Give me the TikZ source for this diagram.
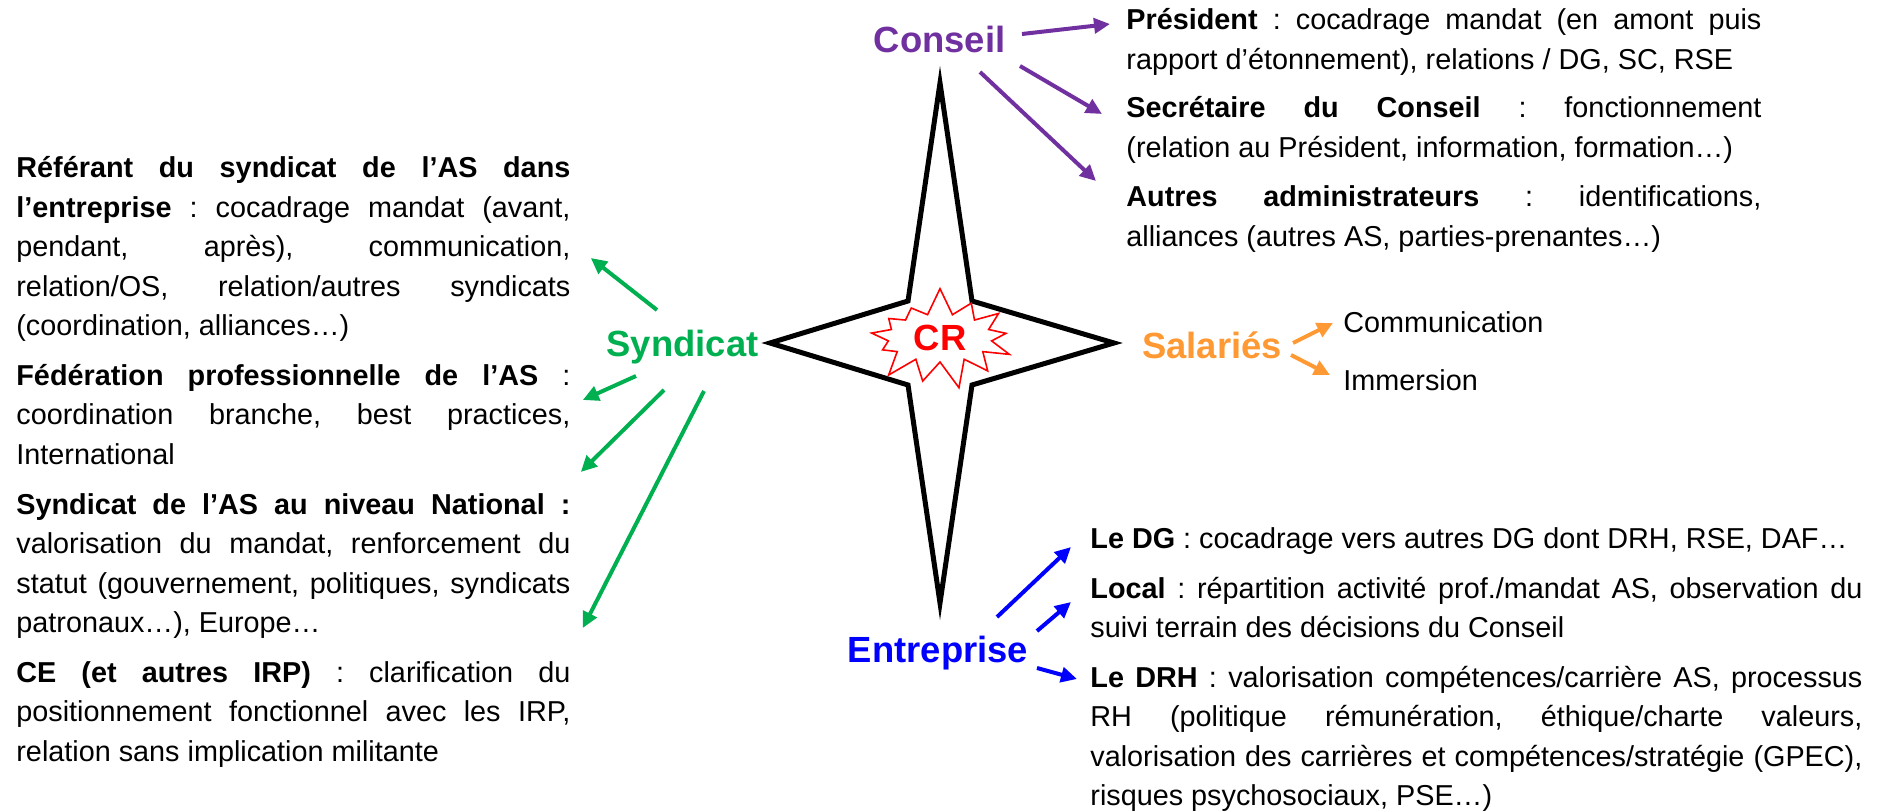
\documentclass[tikz,border=0pt]{standalone}
\usepackage{fontspec}
\setmainfont{Liberation Sans}
\usetikzlibrary{arrows.meta,shapes.symbols}
\definecolor{syndgreen}{HTML}{00B050}
\definecolor{conspurple}{HTML}{7030A0}
\definecolor{salorange}{HTML}{FF9933}
\definecolor{entblue}{HTML}{0000FF}
\definecolor{crred}{HTML}{FF0000}
\hyphenpenalty=10000
\exhyphenpenalty=10000
\tolerance=10000
\frenchspacing
\begin{document}
\begin{tikzpicture}[x=0.5pt, y=-0.5pt,
	txt/.style={inner sep=0pt, anchor=base west, align=justify,
				font=\fontsize{14.4}{19.75}\selectfont},
	leftcol/.style={txt, text width=277pt},
	rightcol/.style={txt, text width=317.5pt},
	lowcol/.style={txt, text width=386pt},
	item/.style={inner sep=0pt, anchor=base west, font=\fontsize{14.4}{19.75}\selectfont},
	actor/.style={inner sep=0pt, anchor=base, font=\bfseries\fontsize{18.2}{22}\selectfont},
	link/.style={line width=2pt, -{Triangle[length=8pt, width=7.5pt]}},
	burst/.style={starburst, starburst points=13, starburst point height=14pt,
				  random starburst=7, draw=crred, fill=white, line width=0.8pt,
				  text=crred, font=\bfseries\fontsize{18.2}{22}\selectfont,
				  minimum width=80pt, minimum height=52pt, inner sep=0pt}]
	\useasboundingbox (0,0) rectangle (1883,812);

	% the compass
	\draw[line width=2.5pt, line join=miter] (940,83) -- (972,301) -- (1114,343) -- (972,385)
		-- (940,603) -- (908,385) -- (770,343) -- (908,301) -- cycle;
	\node[burst] (cr) at (940,338) {CR};

	% the four actors
	\node[actor, text=conspurple] (conseil) at (939.5,53) {Conseil};
	\node[actor, text=syndgreen] (syndicat) at (682.5,357) {Syndicat};
	\node[actor, text=salorange] (salaries) at (1212,358) {Salariés};
	\node[actor, text=entblue] (entreprise) at (938,662) {Entreprise};

	% Syndicat side
	\node[leftcol] (referant) at (16,178) {\textbf{Référant du syndicat de l’AS dans}\linebreak
		\textbf{l’entreprise} : cocadrage mandat (avant,\linebreak
		pendant, après), communication,\linebreak
		relation/OS, relation/autres syndicats\linebreak
		(coordination, alliances…)};
	\node[leftcol] (federation) at (16,385.5) {\textbf{Fédération professionnelle de l’AS} :\linebreak
		coordination branche, best practices,\linebreak
		International};
	\node[leftcol] (national) at (16,514) {\textbf{Syndicat de l’AS au niveau National :}\linebreak
		valorisation du mandat, renforcement du\linebreak
		statut (gouvernement, politiques, syndicats\linebreak
		patronaux…), Europe…};
	\node[leftcol] (ce) at (16,682) {\textbf{CE (et autres IRP)} : clarification du\linebreak
		positionnement fonctionnel avec les IRP,\linebreak
		relation sans implication militante};

	% Conseil side
	\node[rightcol] (president) at (1126,30) {\textbf{Président} : cocadrage mandat (en amont puis\linebreak
		rapport d’étonnement), relations / DG, SC, RSE};
	\node[rightcol] (secretaire) at (1126,118) {\textbf{Secrétaire du Conseil} : fonctionnement\linebreak
		(relation au Président, information, formation…)};
	\node[rightcol] (autres) at (1126,207) {\textbf{Autres administrateurs} : identifications,\linebreak
		alliances (autres AS, parties-prenantes…)};

	% Salaries side
	\node[item] (communication) at (1343,333) {Communication};
	\node[item] (immersion) at (1343,390) {Immersion};

	% Entreprise side
	\node[lowcol] (dg) at (1090,548) {\textbf{Le DG} : cocadrage vers autres DG dont DRH, RSE, DAF…};
	\node[lowcol] (local) at (1090,598) {\textbf{Local} : répartition activité prof./mandat AS, observation du\linebreak
		suivi terrain des décisions du Conseil};
	\node[lowcol] (drh) at (1090,687) {\textbf{Le DRH} : valorisation compétences/carrière AS, processus\linebreak
		RH (politique rémunération, éthique/charte valeurs,\linebreak
		valorisation des carrières et compétences/stratégie (GPEC),\linebreak
		risques psychosociaux, PSE…)};

	\draw[link, syndgreen] ([shift={(-25.5,-47)}]syndicat.base) -- ([shift={(20,80)}]referant.base east);
	\draw[link, syndgreen] ([shift={(-46.5,19)}]syndicat.base) -- ([shift={(12,14.5)}]federation.base east);
	\draw[link, syndgreen] ([shift={(-18.5,33)}]syndicat.base) -- ([shift={(10,-42)}]national.base east);
	\draw[link, syndgreen] ([shift={(21.5,34)}]syndicat.base) -- ([shift={(12,-54)}]ce.base east);

	\draw[link, conspurple] ([shift={(82.5,-19)}]conseil.base) -- ([shift={(-16,-6)}]president.base west);
	\draw[link, conspurple] ([shift={(80.5,13)}]conseil.base) -- ([shift={(-24,-4)}]secretaire.base west);
	\draw[link, conspurple] ([shift={(40.5,19)}]conseil.base) -- ([shift={(-30,-26)}]autres.base west);

	\draw[link, salorange] ([shift={(81,-15)}]salaries.base) -- ([shift={(-10,-10)}]communication.base west);
	\draw[link, salorange] ([shift={(79,-3)}]salaries.base) -- ([shift={(-13,-15)}]immersion.base west);

	\draw[link, entblue] ([shift={(59,-45)}]entreprise.base) -- ([shift={(-19,-1)}]dg.base west);
	\draw[link, entblue] ([shift={(99,-31)}]entreprise.base) -- ([shift={(-19,4)}]local.base west);
	\draw[link, entblue] ([shift={(99,6)}]entreprise.base) -- ([shift={(-13,-8)}]drh.base west);
\end{tikzpicture}
\end{document}
